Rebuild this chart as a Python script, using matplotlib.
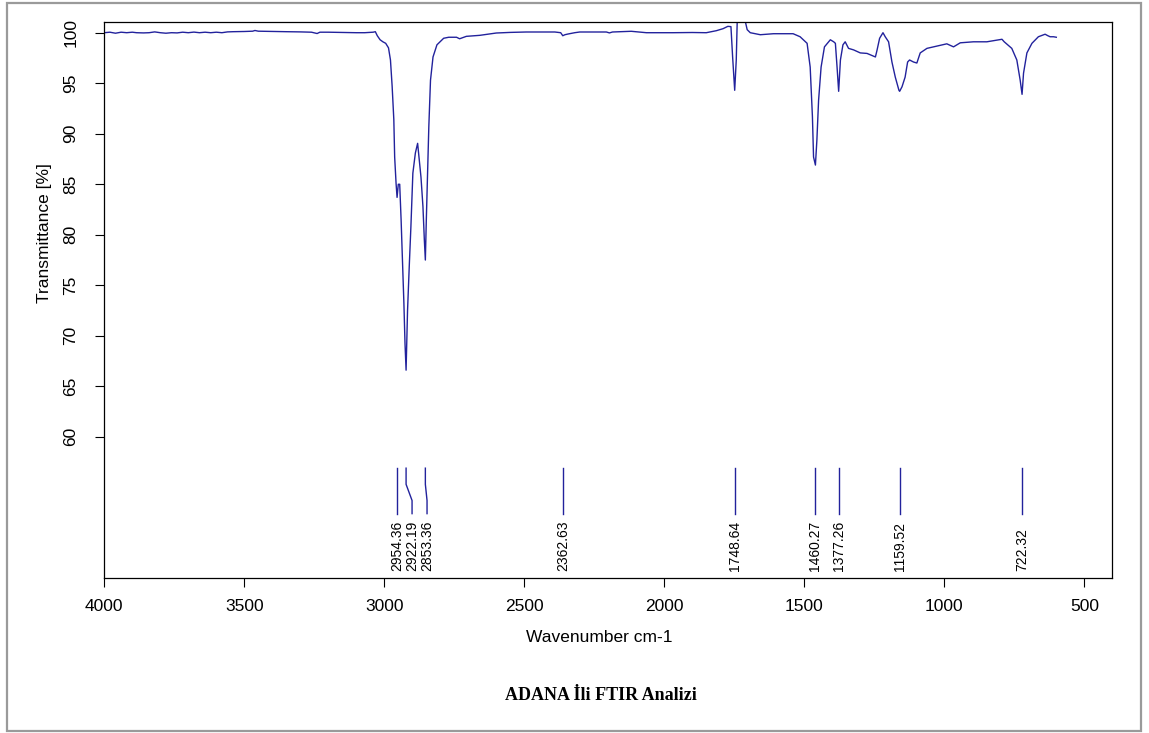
import matplotlib
matplotlib.use("Agg")
import matplotlib.pyplot as plt
from matplotlib.patches import Rectangle
import numpy as np

# ---- data ----
wavenumber = [4000, 3980, 3960, 3940, 3920, 3900, 3885, 3860, 3840, 3820, 3800, 3780,
              3760, 3740, 3720, 3700, 3680, 3660, 3640, 3620, 3600, 3580, 3560, 3540,
              3500, 3470, 3462, 3450, 3400, 3350, 3300, 3260, 3240, 3230, 3200, 3150,
              3100, 3070, 3040, 3032, 3025, 3015, 3005, 2995, 2985, 2978, 2972, 2966,
              2963, 2958, 2954.4, 2950, 2945, 2940, 2935, 2930, 2926, 2922.2, 2917,
              2911, 2905, 2898, 2889, 2881, 2875, 2869, 2862, 2857, 2853.4, 2850, 2845,
              2841, 2835, 2826, 2812, 2788, 2770, 2742, 2731, 2707, 2659, 2600, 2550,
              2493, 2391, 2370, 2362.6, 2355, 2344, 2320, 2302, 2207, 2196, 2185, 2118,
              2064, 1969, 1900, 1850, 1814, 1790, 1773, 1762, 1756, 1748.6, 1743, 1739,
              1730, 1720, 1710, 1704, 1693, 1657, 1610, 1540, 1515, 1490, 1479, 1471,
              1467, 1460.3, 1455, 1449, 1440, 1428, 1407, 1395, 1389, 1383, 1377.3,
              1371, 1362, 1354, 1342, 1324, 1300, 1276, 1254, 1246, 1240, 1231, 1219,
              1211, 1199, 1187, 1175, 1162, 1159.5, 1151, 1140, 1131, 1124, 1110, 1098,
              1086, 1062, 1038, 991, 967, 943, 896, 848, 794, 786, 759, 741, 729, 722.3,
              717, 705, 687, 664, 640, 630, 622, 610, 600]
transmittance = [100.0, 100.05, 99.95, 100.05, 100.0, 100.05, 100.0, 99.98, 100.0, 100.08,
                 100.0, 99.95, 100.0, 99.98, 100.05, 100.0, 100.06, 100.0, 100.05, 100.0,
                 100.05, 100.0, 100.08, 100.1, 100.12, 100.15, 100.22, 100.15, 100.12,
                 100.1, 100.08, 100.05, 99.92, 100.05, 100.05, 100.02, 100.0, 100.0,
                 100.05, 100.1, 99.7, 99.3, 99.1, 98.95, 98.5, 97.3, 94.7, 91.4, 87.7,
                 85.1, 83.7, 85.0, 85.0, 81.5, 77.5, 73.2, 69.2, 66.6, 72.5, 76.8, 80.8,
                 86.1, 88.1, 89.05, 87.4, 85.7, 82.8, 79.5, 77.5, 81.4, 86.4, 90.7, 95.3,
                 97.6, 98.8, 99.45, 99.55, 99.55, 99.4, 99.64, 99.74, 99.97, 100.03,
                 100.07, 100.07, 100.0, 99.7, 99.8, 99.87, 100.0, 100.07, 100.07, 99.98,
                 100.07, 100.14, 100.0, 100.0, 100.02, 100.0, 100.2, 100.4, 100.63, 100.6,
                 97.6, 94.3, 97.3, 101.8, 102.2, 102.0, 101.03, 100.3, 100.0, 99.8, 99.9,
                 99.9, 99.6, 98.95, 96.6, 91.7, 87.7, 86.9, 89.4, 93.3, 96.6, 98.6, 99.3,
                 99.1, 98.95, 96.6, 94.2, 97.3, 98.8, 99.1, 98.45, 98.3, 98.0, 97.95,
                 97.7, 97.6, 98.3, 99.45, 100.0, 99.6, 99.1, 97.1, 95.6, 94.3, 94.2,
                 94.65, 95.6, 97.1, 97.3, 97.1, 97.0, 98.0, 98.45, 98.6, 98.9, 98.6, 99.0,
                 99.1, 99.1, 99.35, 99.1, 98.45, 97.3, 95.3, 93.9, 96.0, 98.0, 98.95, 99.6,
                 99.85, 99.7, 99.6, 99.6, 99.55]

peaks = [2954.36, 2922.19, 2853.36, 2362.63, 1748.64, 1460.27, 1377.26, 1159.52, 722.32]
peak_labels = ["2954.36", "2922.19", "2853.36", "2362.63", "1748.64", "1460.27",
               "1377.26", "1159.52", "722.32"]

x_ticks = [4000, 3500, 3000, 2500, 2000, 1500, 1000, 500]
y_ticks = [60, 65, 70, 75, 80, 85, 90, 95, 100]

title = "ADANA İli FTIR Analizi"
xlabel = "Wavenumber cm-1"
ylabel = "Transmittance [%]"

# ---- figure ----
W, H = 1149, 733
fig = plt.figure(figsize=(W / 100, H / 100), dpi=100)
plt.rcParams['font.family'] = ['Liberation Sans', 'DejaVu Sans']

ax = fig.add_axes([104.3 / W, (H - 578.3) / H, (1112.3 - 104.3) / W, (578.3 - 22.3) / H])
line_color = '#22229c'
ax.plot(wavenumber, transmittance, color=line_color, lw=1.0)
ax.set_xlim(4000, 400)
ax.set_ylim(46.0, 101.03)

ax.set_xticks(x_ticks)
ax.set_xticklabels([str(t) for t in x_ticks], fontsize=12.5)
ax.set_yticks(y_ticks)
ax.set_yticklabels([str(t) for t in y_ticks], fontsize=12.5, rotation=90, va='center')
ax.tick_params(axis='x', direction='out', length=6.5, width=0.8, pad=8.4, colors='black')
ax.tick_params(axis='y', direction='out', length=6.5, width=0.8, pad=12.0, colors='black')
for s in ax.spines.values():
    s.set_linewidth(0.9)
    s.set_color('black')

# peak marker lines with label spreading (min separation in data units)
min_sep = 53.5
label_pos = []
for p in peaks:
    if label_pos and label_pos[-1] - p < min_sep:
        label_pos.append(label_pos[-1] - min_sep)
    else:
        label_pos.append(p)

y_top, y_k1, y_k2, y_bot = 56.9, 55.3, 53.7, 52.4
for p, lp, lab in zip(peaks, label_pos, peak_labels):
    ax.plot([p, p, lp, lp], [y_top, y_k1, y_k2, y_bot], color=line_color, lw=1.0)
    ax.text(lp, 46.7, lab, rotation=90, rotation_mode='anchor', ha='left', va='center',
            fontsize=10, color='black')

fig.text(599 / W, (H - 637) / H, xlabel, ha='center', va='center', fontsize=12.5)
fig.text(45 / W, (H - 233) / H, ylabel, ha='center', va='center', rotation=90, fontsize=12.5)
fig.text(601 / W, (H - 696) / H, title, ha='center', va='center', fontsize=13,
         fontweight='bold', family=['Liberation Serif', 'DejaVu Serif'])

fig.patches.append(Rectangle((7 / W, 2.5 / H), (1141 - 7) / W, (730 - 2.5) / H,
                             transform=fig.transFigure, fill=False, edgecolor='#9a9a9a',
                             lw=1.6))

fig.savefig("out.png", dpi=100)
